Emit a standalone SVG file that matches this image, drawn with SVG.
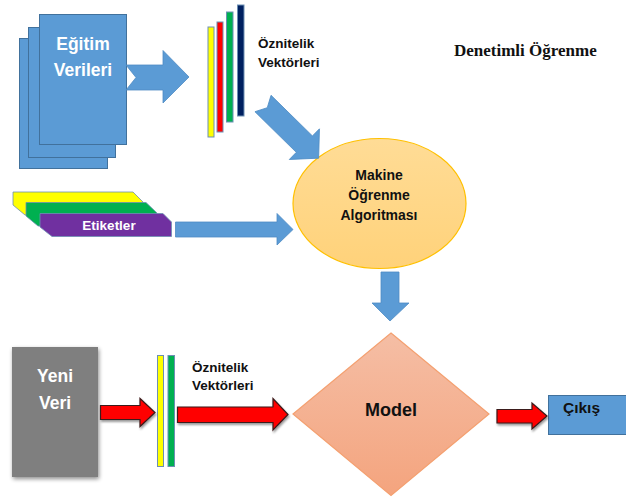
<svg xmlns="http://www.w3.org/2000/svg" width="626" height="498" viewBox="0 0 626 498">
  <defs>
    <linearGradient id="ellGrad" x1="0" y1="0" x2="0" y2="1">
      <stop offset="0" stop-color="#ffdc96"/>
      <stop offset="1" stop-color="#ffd27a"/>
    </linearGradient>
    <linearGradient id="diaGrad" x1="0" y1="0" x2="0" y2="1">
      <stop offset="0" stop-color="#f5bea5"/>
      <stop offset="1" stop-color="#f4a47e"/>
    </linearGradient>
    <filter id="shadow" x="-20%" y="-20%" width="140%" height="140%">
      <feGaussianBlur in="SourceAlpha" stdDeviation="2"/>
      <feOffset dx="1" dy="2" result="b"/>
      <feComponentTransfer><feFuncA type="linear" slope="0.45"/></feComponentTransfer>
      <feMerge><feMergeNode/><feMergeNode in="SourceGraphic"/></feMerge>
    </filter>
    <filter id="arrowShadow" x="-20%" y="-40%" width="140%" height="180%">
      <feGaussianBlur in="SourceAlpha" stdDeviation="1"/>
      <feOffset dx="1" dy="1.5" result="b"/>
      <feComponentTransfer><feFuncA type="linear" slope="0.4"/></feComponentTransfer>
      <feMerge><feMergeNode/><feMergeNode in="SourceGraphic"/></feMerge>
    </filter>
  </defs>
  <style>
    .page { fill: #5b9bd5; stroke: #41719c; stroke-width: 1; }
    .blue { fill: #5b9bd5; stroke: #4f8cc4; stroke-width: 0.8; }
    .red { fill: #ff0000; stroke: #3a1a1a; stroke-width: 1.2; }
    .bar { stroke: #6d8fb3; stroke-width: 1; }
    .tag { stroke: #6d8fb3; stroke-width: 0.8; }
    .lbl { font-family: "Liberation Sans", Arial, sans-serif; font-weight: bold; }
    .white { fill: #ffffff; }
    .dark { fill: #111111; }
  </style>

  <rect width="626" height="498" fill="#ffffff"/>

  <!-- Training data: stacked documents -->
  <g id="egitim-verileri">
    <rect class="page" x="19.5" y="38.5" width="88" height="130"/>
    <rect class="page" x="28.5" y="27.5" width="87" height="130"/>
    <rect class="page" x="39.5" y="14.5" width="87" height="130"/>
    <text class="lbl white" x="83" y="50" font-size="17.5" text-anchor="middle">Eğitim</text>
    <text class="lbl white" x="83" y="76" font-size="17.5" text-anchor="middle">Verileri</text>
  </g>

  <!-- Feature vectors (training) -->
  <g id="oznitelik-vektorleri-1">
    <rect class="bar" x="208" y="27" width="6" height="110" fill="#ffff00"/>
    <rect class="bar" x="217" y="22" width="6" height="110" fill="#ff0000"/>
    <rect class="bar" x="226.5" y="12" width="6.5" height="110" fill="#00b050"/>
    <rect class="bar" x="237.5" y="5" width="6.5" height="111" fill="#002060"/>
    <text class="lbl dark" x="258" y="48" font-size="13.5">Öznitelik</text>
    <text class="lbl dark" x="258" y="67" font-size="13.5">Vektörleri</text>
  </g>

  <!-- Title -->
  <g id="baslik">
    <text x="454" y="56" font-family="'Liberation Serif', 'Times New Roman', serif" font-weight="bold" font-size="17" fill="#111111">Denetimli Öğrenme</text>
  </g>

  <!-- Labels: stacked tags -->
  <g id="etiketler">
    <path class="tag" fill="#ffff00" d="M13,192 H133 L143,202 V215 H25 L13,205 Z"/>
    <path class="tag" fill="#00b050" d="M26,202.5 H146 L157,213 V226 H38 L26,216 Z"/>
    <path class="tag" fill="#7030a0" d="M40,213.5 H163 L171.5,222 V236.5 H52 L40,227 Z"/>
    <text class="lbl white" x="109" y="230" font-size="13.5" text-anchor="middle">Etiketler</text>
  </g>

  <!-- Learning algorithm -->
  <g id="makine-ogrenme-algoritmasi">
    <ellipse cx="379.5" cy="203.5" rx="86.5" ry="65" fill="url(#ellGrad)" stroke="#ffc000" stroke-width="1.2"/>
    <text class="lbl dark" x="379" y="180" font-size="14" text-anchor="middle">Makine</text>
    <text class="lbl dark" x="379" y="200" font-size="14" text-anchor="middle">Öğrenme</text>
    <text class="lbl dark" x="379" y="220" font-size="14" text-anchor="middle">Algoritması</text>
  </g>

  <!-- New data -->
  <g id="yeni-veri">
    <rect x="12" y="347" width="86" height="130" fill="#7f7f7f" filter="url(#shadow)"/>
    <text class="lbl white" x="55" y="382" font-size="17.5" text-anchor="middle">Yeni</text>
    <text class="lbl white" x="55" y="409" font-size="17.5" text-anchor="middle">Veri</text>
  </g>

  <!-- Feature vectors (prediction) -->
  <g id="oznitelik-vektorleri-2">
    <rect class="bar" x="157.5" y="355.5" width="6" height="111" fill="#ffff00"/>
    <rect class="bar" x="168" y="355.5" width="6.5" height="111" fill="#00b050"/>
    <text class="lbl dark" x="192" y="372" font-size="13.5">Öznitelik</text>
    <text class="lbl dark" x="192" y="390" font-size="13.5">Vektörleri</text>
  </g>

  <!-- Model -->
  <g id="model">
    <polygon points="391,333 489,414 391,495.5 293,414" fill="url(#diaGrad)" stroke="#f4a070" stroke-width="1.2"/>
    <text class="lbl dark" x="391" y="416" font-size="18" text-anchor="middle">Model</text>
  </g>

  <!-- Output -->
  <g id="cikis">
    <rect x="548.5" y="395.5" width="80" height="39" fill="#5b9bd5" stroke="#41719c" stroke-width="1"/>
    <text class="lbl dark" x="563" y="413" font-size="15.5">Çıkış</text>
  </g>

  <!-- Connectors -->
  <g id="baglantilar">
    <!-- documents to feature vectors (notched) -->
    <polygon class="blue" points="126,65 163,65 163,50.5 189,77 163,103 163,90 126,90 136,77.5"/>
    <!-- feature vectors to algorithm -->
    <polygon class="blue" transform="translate(263,103.5) rotate(44.5)" points="0,-11.5 58,-11.5 58,-21.5 78,0 58,21.5 58,11.5 0,11.5 6,0"/>
    <!-- labels to algorithm -->
    <polygon class="blue" points="175.5,222 277,222 277,213.5 293,229.5 277,245 277,237 175.5,237"/>
    <!-- algorithm to model -->
    <polygon class="blue" points="381,272 399,272 399,303 409,303 390,321 372,303 381,303"/>
    <!-- new data to feature vectors -->
    <polygon class="red" filter="url(#arrowShadow)" points="100.5,405.5 140,405.5 140,398.5 155,412.5 140,426.5 140,419.5 100.5,419.5"/>
    <!-- feature vectors to model -->
    <polygon class="red" filter="url(#arrowShadow)" points="177.5,407 273,407 273,398.5 288,414.5 273,430 273,422.5 177.5,422.5"/>
    <!-- model to output -->
    <polygon class="red" filter="url(#arrowShadow)" points="497,409.5 532,409.5 532,403 547,416 532,429 532,423 497,423"/>
  </g>
</svg>
